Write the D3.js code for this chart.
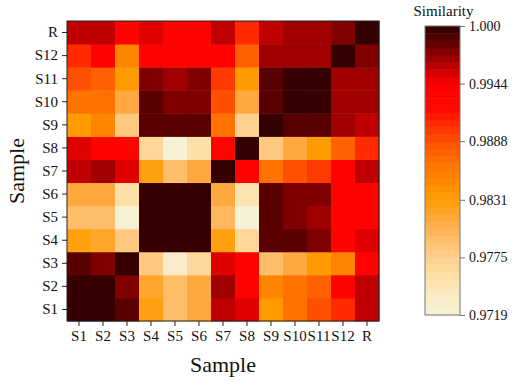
<!DOCTYPE html>
<html lang="en">
<head>
<meta charset="UTF-8">
<title>Similarity heatmap</title>
<script src="https://d3js.org/d3.v7.min.js"></script>
<style>
    body { margin: 0; background: #fff; }
    svg { display: block; }
</style>
</head>
<body>
<svg width="512" height="381"></svg>
<script>
    // sample names, bottom to top on y and left to right on x
    const samples = ["S1", "S2", "S3", "S4", "S5", "S6", "S7", "S8", "S9", "S10", "S11", "S12", "R"];

    // similarity rows (row sample vs column S1..S12, R)
    const rowS1  = [0.9997, 0.9996, 0.9986, 0.9826, 0.9793, 0.9812, 0.9960, 0.9952, 0.9836, 0.9866, 0.9888, 0.9905, 0.9960];
    const rowS2  = [0.9996, 0.9997, 0.9976, 0.9818, 0.9793, 0.9812, 0.9968, 0.9932, 0.9852, 0.9866, 0.9878, 0.9932, 0.9960];
    const rowS3  = [0.9986, 0.9976, 0.9997, 0.9782, 0.9735, 0.9765, 0.9952, 0.9932, 0.9793, 0.9812, 0.9836, 0.9852, 0.9932];
    const rowS4  = [0.9826, 0.9818, 0.9782, 0.9997, 0.9996, 0.9996, 0.9826, 0.9768, 0.9986, 0.9986, 0.9976, 0.9932, 0.9952];
    const rowS5  = [0.9793, 0.9793, 0.9724, 0.9996, 0.9997, 0.9996, 0.9798, 0.9722, 0.9986, 0.9976, 0.9968, 0.9932, 0.9932];
    const rowS6  = [0.9812, 0.9812, 0.9756, 0.9996, 0.9996, 0.9997, 0.9812, 0.9750, 0.9986, 0.9976, 0.9976, 0.9932, 0.9932];
    const rowS7  = [0.9960, 0.9968, 0.9952, 0.9826, 0.9793, 0.9812, 0.9997, 0.9932, 0.9866, 0.9888, 0.9898, 0.9932, 0.9960];
    const rowS8  = [0.9952, 0.9932, 0.9932, 0.9768, 0.9722, 0.9756, 0.9932, 0.9997, 0.9782, 0.9812, 0.9836, 0.9878, 0.9905];
    const rowS9  = [0.9836, 0.9852, 0.9782, 0.9986, 0.9986, 0.9986, 0.9866, 0.9772, 0.9997, 0.9986, 0.9986, 0.9968, 0.9960];
    const rowS10 = [0.9866, 0.9866, 0.9812, 0.9986, 0.9976, 0.9976, 0.9888, 0.9812, 0.9986, 0.9997, 0.9996, 0.9968, 0.9968];
    const rowS11 = [0.9888, 0.9878, 0.9836, 0.9976, 0.9968, 0.9976, 0.9898, 0.9836, 0.9986, 0.9996, 0.9997, 0.9968, 0.9968];
    const rowS12 = [0.9905, 0.9932, 0.9852, 0.9932, 0.9932, 0.9932, 0.9932, 0.9878, 0.9968, 0.9968, 0.9968, 0.9997, 0.9976];
    const rowR   = [0.9960, 0.9960, 0.9932, 0.9952, 0.9932, 0.9932, 0.9960, 0.9905, 0.9960, 0.9968, 0.9968, 0.9976, 0.9997];

    const rows = [rowS1, rowS2, rowS3, rowS4, rowS5, rowS6, rowS7, rowS8, rowS9, rowS10, rowS11, rowS12, rowR];

    // colour bar ticks
    const barTicks = [0.9719, 0.9775, 0.9831, 0.9888, 0.9944, 1.000];
    const barTickLabels = ["0.9719", "0.9775", "0.9831", "0.9888", "0.9944", "1.000"];

    const FONT = "Liberation Serif";
    const svg = d3.select("svg");
    const plot = { left: 67, top: 21, width: 312, height: 300 };

    // palette stops (light cream -> orange -> red -> very dark red)
    const stopVals = [0.9719, 0.9735, 0.9756, 0.9770, 0.9782, 0.9793, 0.9812, 0.9826, 0.9836, 0.9852, 0.9866,
                      0.9878, 0.9888, 0.9905, 0.9920, 0.9940, 0.9952, 0.9960, 0.9968, 0.9976, 0.9986, 1.000];
    const stopCols = ["#f5f3d8", "#f8ecc8", "#fde0a8", "#ffd494", "#ffc880", "#ffbe6a", "#ffa840", "#ffa010",
                      "#ff9a00", "#ff8400", "#ff7200", "#ff6000", "#ff5000", "#ff2a00", "#ff0800", "#ff0000",
                      "#e00000", "#c00000", "#a00000", "#800000", "#5a0000", "#2a0000"];
    const color = d3.scaleLinear().domain(stopVals).range(stopCols).clamp(true);

    const x = d3.scaleBand().domain(samples).range([plot.left, plot.left + plot.width]);
    const y = d3.scaleBand().domain(samples).range([plot.top + plot.height, plot.top]);

    const cells = [];
    rows.forEach((r, i) => r.forEach((v, j) => cells.push({ row: samples[i], col: samples[j], v: v })));

    svg.append("g").selectAll("rect").data(cells).join("rect")
        .attr("x", d => x(d.col))
        .attr("y", d => y(d.row))
        .attr("width", x.bandwidth() + 0.5)
        .attr("height", y.bandwidth() + 0.5)
        .attr("fill", d => color(d.v));

    svg.append("rect")
        .attr("x", plot.left).attr("y", plot.top)
        .attr("width", plot.width).attr("height", plot.height)
        .attr("fill", "none").attr("stroke", "#222").attr("stroke-width", 1);

    const xAxis = svg.append("g")
        .attr("transform", `translate(0,${plot.top + plot.height})`)
        .call(d3.axisBottom(x).tickSize(5).tickPadding(4));
    const yAxis = svg.append("g")
        .attr("transform", `translate(${plot.left},0)`)
        .call(d3.axisLeft(y).tickSize(5).tickPadding(4));
    [xAxis, yAxis].forEach(a => {
        a.attr("font-family", FONT).attr("font-size", 15);
        a.select(".domain").remove();
        a.selectAll("line").attr("stroke", "#222");
        a.selectAll("text").attr("font-family", FONT).attr("font-size", 15).attr("fill", "#111");
    });

    svg.append("text")
        .attr("x", plot.left + plot.width / 2).attr("y", 372)
        .attr("text-anchor", "middle").attr("font-family", FONT).attr("font-size", 22).attr("fill", "#111")
        .text("Sample");
    svg.append("text")
        .attr("transform", `translate(24,${plot.top + plot.height / 2}) rotate(-90)`)
        .attr("text-anchor", "middle").attr("font-family", FONT).attr("font-size", 22).attr("fill", "#111")
        .text("Sample");

    // colour bar
    const bar = { left: 425, top: 26, width: 35, height: 289 };
    const cy = d3.scaleLinear().domain([0.9719, 1.000]).range([bar.top + bar.height, bar.top]);
    const nBands = 40;
    const bands = d3.range(nBands).map(i => {
        const lo = 0.9719 + (1.000 - 0.9719) * i / nBands;
        const hi = 0.9719 + (1.000 - 0.9719) * (i + 1) / nBands;
        return { lo: lo, hi: hi };
    });
    svg.append("g").selectAll("rect").data(bands).join("rect")
        .attr("x", bar.left)
        .attr("y", d => cy(d.hi))
        .attr("width", bar.width)
        .attr("height", d => cy(d.lo) - cy(d.hi) + 0.5)
        .attr("fill", d => color((d.lo + d.hi) / 2));
    svg.append("rect")
        .attr("x", bar.left).attr("y", bar.top)
        .attr("width", bar.width).attr("height", bar.height)
        .attr("fill", "none").attr("stroke", "#777").attr("stroke-width", 1);

    const barAxis = svg.append("g")
        .attr("transform", `translate(${bar.left + bar.width},0)`)
        .call(d3.axisRight(cy).tickValues(barTicks).tickFormat((d, i) => barTickLabels[i]).tickSize(5).tickPadding(4));
    barAxis.attr("font-family", FONT).attr("font-size", 14);
    barAxis.select(".domain").remove();
    barAxis.selectAll("line").attr("stroke", "#777");
    barAxis.selectAll("text").attr("font-family", FONT).attr("font-size", 14).attr("fill", "#111");

    svg.append("text")
        .attr("x", bar.left + bar.width / 2 + 1).attr("y", 16)
        .attr("text-anchor", "middle").attr("font-family", FONT).attr("font-size", 15).attr("fill", "#111")
        .text("Similarity");
</script>
</body>
</html>
